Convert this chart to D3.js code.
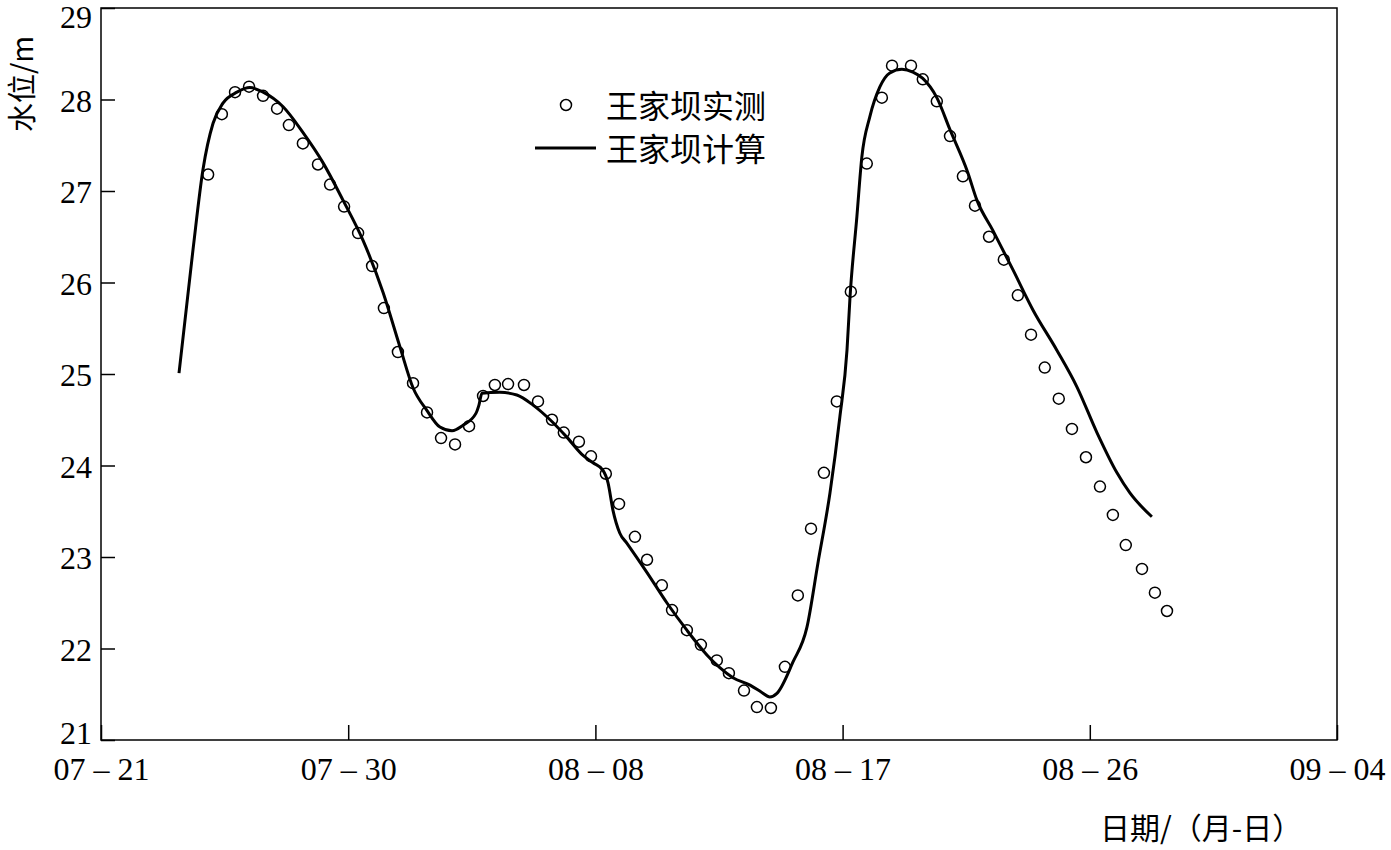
<!DOCTYPE html>
<html>
<head>
<meta charset="utf-8">
<script src="https://cdn.jsdelivr.net/npm/d3@7"></script>
<style>
  body { margin: 0; background: #fff; }
  svg { display: block; }
</style>
</head>
<body>
<div id="chart"></div>
<script>
// x ticks: days counted from 07-21
let xTickDays = [0, 9, 18, 27, 36, 45];
let xTickLabels = ["07 – 21", "07 – 30", "08 – 08", "08 – 17", "08 – 26", "09 – 04"];
let yTicks = [21, 22, 23, 24, 25, 26, 27, 28, 29];

// 王家坝实测 (observed), day offset and water level
let obsDays = [3.90, 4.40, 4.88, 5.39, 5.90, 6.41, 6.84, 7.35, 7.90, 8.34,
  8.85, 9.36, 9.87, 10.30, 10.81, 11.36, 11.87, 12.38, 12.89, 13.40,
  13.91, 14.34, 14.82, 15.40, 15.91, 16.42, 16.85, 17.40, 17.84, 18.38,
  18.86, 19.44, 19.88, 20.42, 20.79, 21.33, 21.84, 22.42, 22.86, 23.41,
  23.88, 24.39, 24.90, 25.37, 25.85, 26.32, 26.79, 27.30, 27.88, 28.43,
  28.80, 29.49, 29.92, 30.43, 30.91, 31.38, 31.82, 32.33, 32.87, 33.38,
  33.86, 34.36, 34.87, 35.35, 35.86, 36.37, 36.84, 37.31, 37.90, 38.37, 38.81];
let obsLevel = [27.18, 27.84, 28.08, 28.14, 28.04, 27.90, 27.72, 27.52, 27.29, 27.07,
  26.83, 26.54, 26.18, 25.72, 25.24, 24.90, 24.58, 24.30, 24.23, 24.43,
  24.76, 24.88, 24.89, 24.88, 24.70, 24.50, 24.36, 24.26, 24.10, 23.91,
  23.58, 23.22, 22.97, 22.69, 22.42, 22.20, 22.04, 21.87, 21.73, 21.54,
  21.36, 21.35, 21.80, 22.58, 23.31, 23.92, 24.70, 25.90, 27.30, 28.02,
  28.37, 28.37, 28.22, 27.98, 27.60, 27.16, 26.84, 26.50, 26.25, 25.86,
  25.43, 25.07, 24.73, 24.40, 24.09, 23.77, 23.46, 23.13, 22.87, 22.61, 22.41];

// 王家坝计算 (computed)
let calcDays = [2.84, 3.35, 3.71, 4.08, 4.44, 4.95, 5.42, 5.90, 6.63, 7.35,
  8.08, 8.81, 9.54, 10.27, 10.88, 11.36, 11.87, 12.34, 12.78, 13.18,
  13.65, 13.76, 13.87, 14.52, 15.14, 15.73, 16.35, 16.96, 17.55, 17.91,
  18.27, 18.46, 18.64, 18.89, 19.15, 19.88, 20.60, 21.33, 22.06, 22.53,
  23.01, 23.63, 24.06, 24.35, 24.61, 25.19, 25.70, 26.10, 26.54, 26.90,
  27.16, 27.27, 27.52, 27.70, 27.99, 28.36, 28.72, 29.16, 29.56, 29.92,
  30.43, 30.91, 31.56, 31.89, 32.47, 33.20, 33.93, 34.80, 35.53, 36.26,
  36.99, 37.46, 38.26];
let calcLevel = [25.01, 26.36, 27.23, 27.74, 27.96, 28.08, 28.13, 28.08, 27.92, 27.64,
  27.31, 26.90, 26.46, 25.89, 25.30, 24.85, 24.60, 24.42, 24.38, 24.44,
  24.57, 24.66, 24.79, 24.80, 24.77, 24.66, 24.50, 24.31, 24.11, 24.03,
  23.95, 23.81, 23.51, 23.26, 23.15, 22.83, 22.50, 22.20, 21.93, 21.79,
  21.68, 21.60, 21.52, 21.47, 21.51, 21.85, 22.23, 22.93, 23.70, 24.53,
  25.26, 25.84, 26.72, 27.37, 27.81, 28.14, 28.29, 28.33, 28.30, 28.23,
  28.02, 27.67, 27.20, 26.90, 26.57, 26.14, 25.70, 25.26, 24.86, 24.36,
  23.92, 23.70, 23.44];

let width = 1391, height = 850;
let plotLeft = 101, plotRight = 1337, plotTop = 8, plotBottom = 740;

let svg = d3.select("#chart").append("svg")
    .attr("width", width)
    .attr("height", height);

let x = d3.scaleLinear().domain([0, 45]).range([plotLeft, plotRight]);
let y = d3.scaleLinear().domain([21, 29]).range([plotBottom, plotTop]);

let serif = "'Liberation Serif', 'DejaVu Serif', serif";
let cjk = "'Noto Sans CJK SC', sans-serif";

// frame
svg.append("rect")
    .attr("x", plotLeft).attr("y", plotTop)
    .attr("width", plotRight - plotLeft).attr("height", plotBottom - plotTop)
    .attr("fill", "none")
    .attr("stroke", "#000")
    .attr("stroke-width", 1.5);

// axes, ticks pointing inward
let xAxis = svg.append("g")
    .attr("transform", "translate(0," + plotBottom + ")")
    .call(d3.axisBottom(x)
      .tickValues(xTickDays)
      .tickFormat((d, i) => xTickLabels[i])
      .tickSizeInner(-15)
      .tickSizeOuter(0)
      .tickPadding(17));
xAxis.select(".domain").remove();
xAxis.selectAll("line").attr("stroke-width", 1.5);
xAxis.selectAll("text")
    .style("font-family", serif)
    .style("font-size", "32px")
    .attr("fill", "#000");

let yAxis = svg.append("g")
    .attr("transform", "translate(" + plotLeft + ",0)")
    .call(d3.axisLeft(y)
      .tickValues(yTicks)
      .tickFormat(d3.format("d"))
      .tickSizeInner(-14)
      .tickSizeOuter(0)
      .tickPadding(9));
yAxis.select(".domain").remove();
yAxis.selectAll("line").attr("stroke-width", 1.5);
yAxis.selectAll("text")
    .style("font-family", serif)
    .style("font-size", "32px")
    .attr("fill", "#000")
    .attr("dy", d => d === 29 ? "0.62em" : (d === 21 ? "0.12em" : "0.36em"));

// computed line
let calc = calcDays.map((d, i) => ({day: d, level: calcLevel[i]}));
let line = d3.line()
    .x(d => x(d.day))
    .y(d => y(d.level))
    .curve(d3.curveMonotoneX);

svg.append("path")
    .datum(calc)
    .attr("d", line)
    .attr("fill", "none")
    .attr("stroke", "#000")
    .attr("stroke-width", 3);

// observed circles
let obs = obsDays.map((d, i) => ({day: d, level: obsLevel[i]}));
svg.append("g").selectAll("circle")
    .data(obs)
    .enter()
    .append("circle")
      .attr("cx", d => x(d.day))
      .attr("cy", d => y(d.level))
      .attr("r", 5.5)
      .attr("fill", "none")
      .attr("stroke", "#000")
      .attr("stroke-width", 1.5);

// legend
let legend = svg.append("g");
legend.append("circle")
    .attr("cx", 566).attr("cy", 105)
    .attr("r", 5.5)
    .attr("fill", "none")
    .attr("stroke", "#000")
    .attr("stroke-width", 1.5);
legend.append("text")
    .attr("x", 606).attr("y", 118)
    .text("王家坝实测");
legend.append("line")
    .attr("x1", 535).attr("x2", 596)
    .attr("y1", 148).attr("y2", 148)
    .attr("stroke", "#000")
    .attr("stroke-width", 3);
legend.append("text")
    .attr("x", 606).attr("y", 161)
    .text("王家坝计算");
legend.selectAll("text")
    .style("font-family", cjk)
    .style("font-size", "32px")
    .attr("fill", "#000");

// axis titles
svg.append("text")
    .attr("transform", "translate(33,84) rotate(-90)")
    .attr("text-anchor", "middle")
    .style("font-family", cjk)
    .style("font-size", "29px")
    .text("水位/m");

svg.append("text")
    .attr("x", 1100).attr("y", 839)
    .style("font-family", cjk)
    .style("font-size", "30px")
    .text("日期/（月-日）");
</script>
</body>
</html>
